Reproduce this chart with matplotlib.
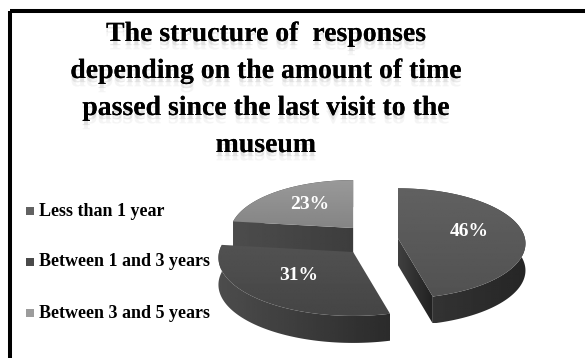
import numpy as np
import matplotlib
matplotlib.use("Agg")
import matplotlib.pyplot as plt
from matplotlib.patches import Polygon, Rectangle
import matplotlib.patheffects as pe

# survey shares, in percent
categories = ["Less than 1 year", "Between 1 and 3 years", "Between 3 and 5 years"]
shares = [46, 31, 23]
pct_labels = ["46%", "31%", "23%"]
title_lines = ["The structure of  responses",
               "depending on the amount of time",
               "passed since the last visit to the",
               "museum"]

# (light, dark) grey levels for top faces, rims and cut faces
top_shade = [(0.38, 0.32), (0.32, 0.27), (0.60, 0.52)]
rim_shade = [(0.22, 0.15), (0.30, 0.17), (0.30, 0.20)]
cut_shade = [(0.25, 0.13), (0.20, 0.15), (0.30, 0.24)]
key_colors = ["#626262", "#4a4a4a", "#9c9c9c"]

W, H = 585, 358
fig = plt.figure(figsize=(W / 100, H / 100), dpi=100)
ax = fig.add_axes([0, 0, 1, 1])
ax.set_xlim(0, W)
ax.set_ylim(H, 0)
ax.axis("off")

# frame (runs off to the right and bottom)
ax.add_patch(Rectangle((10, 11), 620, 400, fill=False, ec="black", lw=2.9))

# title with soft reflection under it
haze = [pe.withSimplePatchShadow(offset=(0, -3), shadow_rgbFace="0.5", alpha=0.16),
        pe.withSimplePatchShadow(offset=(0, -6), shadow_rgbFace="0.6", alpha=0.10)]
for i, line in enumerate(title_lines):
    ax.text(266, 41 + i * 37, line, ha="center", va="baseline",
            fontsize=20, fontweight="bold", family="Liberation Serif",
            color="black", path_effects=haze)


def shaded(xy, levels, horizontal=True, zorder=2):
    # grey gradient clipped to a polygon
    xy = np.asarray(xy)
    x0, x1 = xy[:, 0].min(), xy[:, 0].max()
    y0, y1 = xy[:, 1].min(), xy[:, 1].max()
    ramp = np.linspace(levels[0], levels[1], 64)
    img = ramp[None, :] if horizontal else ramp[:, None]
    poly = Polygon(xy, closed=True, fc="none", ec="none")
    ax.add_patch(poly)
    im = ax.imshow(img, cmap="gray", vmin=0, vmax=1, extent=(x0, x1, y1, y0),
                   aspect="auto", interpolation="bilinear", zorder=zorder)
    im.set_clip_path(poly)


# 3d pie geometry
cx, cy = 371, 240
a, b0, k = 128, 55, 0.099
depth = 27
ex, ey = 27, 16


def rim(vx, vy, t, scale=1.0):
    s = (1 + k * np.sin(t)) / scale
    return vx + a * np.cos(t) / s, vy - b0 * np.sin(t) / s


fracs = np.array(shares) / sum(shares)
start = np.pi / 2
slices = []
for i, f in enumerate(fracs):
    t1 = start - 2 * np.pi * f
    t2 = start
    mid = (t1 + t2) / 2
    vx = cx + ex * np.cos(mid)
    vy = cy - ey * np.sin(mid)
    slices.append((vy, i, t1, t2, mid, vx))
    start = t1

z = 2
# back slices first
for vy, i, t1, t2, mid, vx in sorted(slices):
    sc = 1 / (1 + 0.06 * np.sin(mid))   # farther slices look smaller
    ts = np.linspace(t1, t2, 120)
    rx, ry = rim(vx, vy, ts, sc)
    # outer wall
    wall = np.column_stack([np.concatenate([rx, rx[::-1]]),
                            np.concatenate([ry, ry[::-1] + depth])])
    shaded(wall, rim_shade[i], zorder=z)
    # radial cut faces that face the viewer
    for t, normal in ((t1, t1 - np.pi / 2), (t2, t2 + np.pi / 2)):
        if np.sin(normal) < -0.05:
            px, py = rim(vx, vy, t, sc)
            face = [(vx, vy), (px, py), (px, py + depth), (vx, vy + depth)]
            shaded(face, cut_shade[i], zorder=z + 0.1)
    # top face
    top = np.column_stack([np.concatenate([[vx], rx]), np.concatenate([[vy], ry])])
    shaded(top, top_shade[i], horizontal=False, zorder=z + 0.2)
    lx, ly = rim(vx, vy, mid, sc)
    ax.text(vx + 0.57 * (lx - vx), vy + 0.57 * (ly - vy) - 3, pct_labels[i],
            ha="center", va="center", color="white", fontsize=14,
            fontweight="bold", family="Liberation Serif", zorder=z + 0.3)
    z += 1

# legend
for i, name in enumerate(categories):
    y = 211 + i * 51
    ax.add_patch(Rectangle((26, y - 4), 8, 8, fc=key_colors[i], ec="none"))
    ax.text(39, y, name, ha="left", va="center", fontsize=13,
            fontweight="bold", family="Liberation Serif", color="black")

ax.set_xlim(0, W)
ax.set_ylim(H, 0)
fig.savefig("out.png", dpi=100)
